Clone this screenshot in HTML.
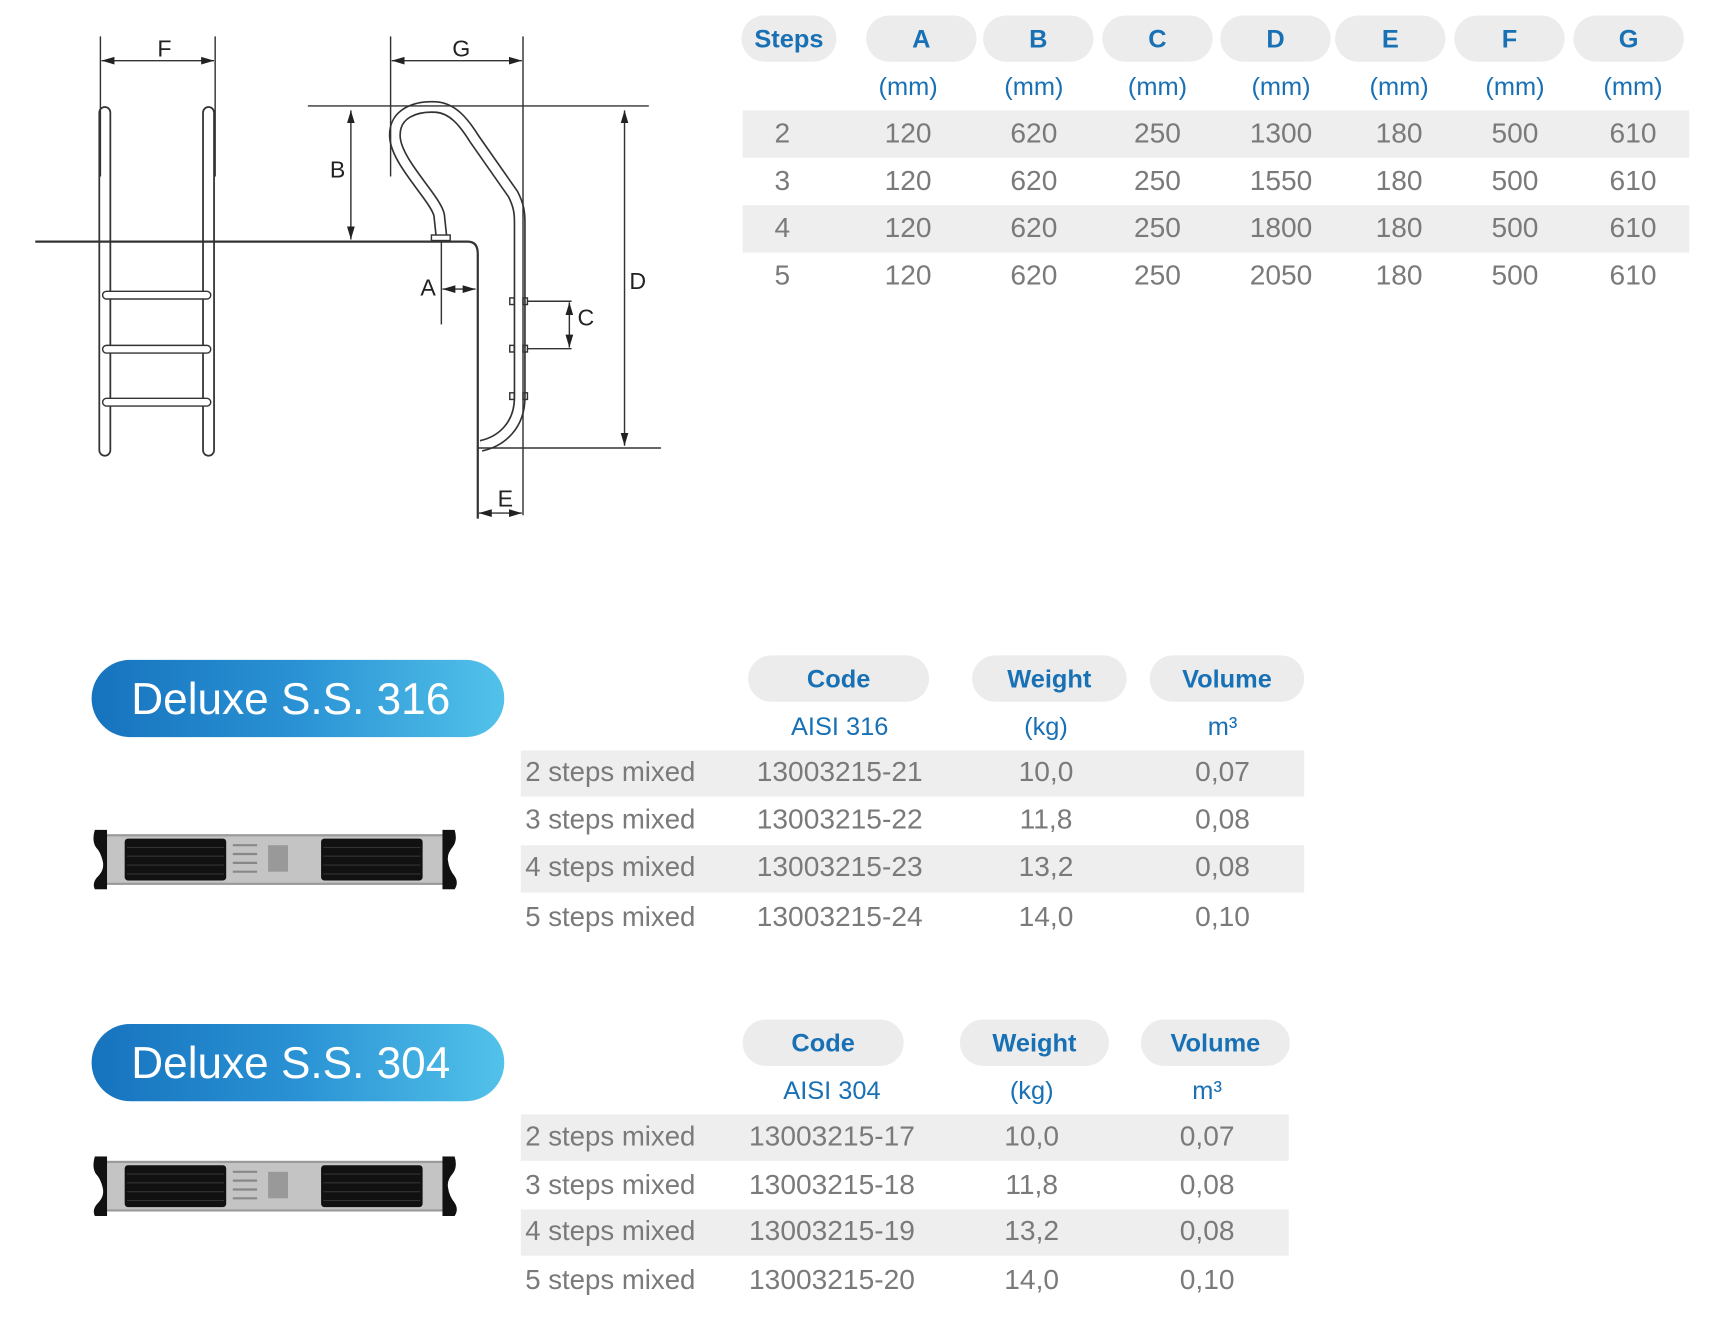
<!DOCTYPE html>
<html><head><meta charset="utf-8"><style>
html,body{margin:0;padding:0;background:#fff;width:1729px;height:1327px;overflow:hidden}
#w{position:absolute;left:0;top:0;width:1567px;height:1203px;transform:scale(1.1034);transform-origin:0 0;font-family:"Liberation Sans",sans-serif}
.a{position:absolute;white-space:nowrap}
.pill{position:absolute;background:#ececec;border-radius:21px;height:42px;color:#1870b5;font-weight:bold;font-size:23px;line-height:42px;text-align:center}
.mm{position:absolute;color:#1870b5;font-size:23px;text-align:center;width:110px;line-height:30px;white-space:nowrap}
.bg{position:absolute;background:#eeeeee}
.t{position:absolute;color:#7a7a7a;font-size:25.5px;line-height:30px;text-align:center;width:120px;white-space:nowrap}
.c{position:absolute;color:#7a7a7a;font-size:25.5px;line-height:30px;text-align:center;width:200px;white-space:nowrap}
.tl{position:absolute;color:#7a7a7a;font-size:25px;line-height:30px;white-space:nowrap}
.big{position:absolute;left:83px;width:374px;height:70px;border-radius:35px;background:linear-gradient(90deg,#1673be,#2a92d4 50%,#52c2ea);color:#fff;font-size:40px;line-height:72px;text-indent:36px}
</style></head><body><div id="w">
<svg class="a" style="left:0;top:0" width="620" height="500" viewBox="0 0 620 500" fill="none" stroke="#333" stroke-width="1.3">
<defs><marker id="ar" viewBox="0 0 10 10" refX="10" refY="5" markerWidth="9" markerHeight="9" orient="auto-start-reverse"><path d="M0,2 L10,5 L0,8z" fill="#222" stroke="none"/></marker></defs>
<rect x="90" y="97" width="10" height="316" rx="5" stroke-width="1.6"/>
<rect x="184" y="97" width="10" height="316" rx="5" stroke-width="1.6"/>
<rect x="93" y="264" width="98" height="7" rx="3.5" fill="#fff"/>
<rect x="93" y="313" width="98" height="7" rx="3.5" fill="#fff"/>
<rect x="93" y="361" width="98" height="7" rx="3.5" fill="#fff"/>
<line x1="91" y1="33" x2="91" y2="160"/><line x1="195" y1="33" x2="195" y2="160"/>
<line x1="92" y1="55" x2="194" y2="55" marker-start="url(#ar)" marker-end="url(#ar)"/>
<path d="M32,219 L424,219 Q433,219 433,230 L433,470" stroke-width="2"/>
<path d="M400,214 L398,195 C395,180 360,148 358,125 C356,102 378,96 395,97 C410,98 420,110 430,126 L465,176 C470,186 471,192 471,202 L471,360 C471,385 455,400 436,404" stroke="#333" stroke-width="11"/>
<path d="M400,214 L398,195 C395,180 360,148 358,125 C356,102 378,96 395,97 C410,98 420,110 430,126 L465,176 C470,186 471,192 471,202 L471,360 C471,385 455,400 436,404" stroke="#fff" stroke-width="8"/>
<rect x="391" y="213" width="17" height="5" fill="#fff"/>
<line x1="279" y1="96" x2="588" y2="96"/><line x1="433" y1="406" x2="599" y2="406"/>
<line x1="354" y1="33" x2="354" y2="160"/><line x1="474" y1="33" x2="474" y2="467"/>
<line x1="355" y1="55" x2="473" y2="55" marker-start="url(#ar)" marker-end="url(#ar)"/>
<line x1="318" y1="100" x2="318" y2="217" marker-start="url(#ar)" marker-end="url(#ar)"/>
<line x1="566" y1="100" x2="566" y2="404" marker-start="url(#ar)" marker-end="url(#ar)"/>
<line x1="400" y1="219" x2="400" y2="294"/>
<line x1="401" y1="262" x2="431" y2="262" marker-start="url(#ar)" marker-end="url(#ar)"/>
<rect x="462" y="270" width="4" height="6"/><rect x="474" y="270" width="4" height="6"/>
<rect x="462" y="313" width="4" height="6"/><rect x="474" y="313" width="4" height="6"/>
<rect x="462" y="356" width="4" height="6"/><rect x="474" y="356" width="4" height="6"/>
<line x1="478" y1="273" x2="518" y2="273"/><line x1="478" y1="316" x2="518" y2="316"/>
<line x1="516" y1="274" x2="516" y2="315" marker-start="url(#ar)" marker-end="url(#ar)"/>
<line x1="434" y1="465" x2="473" y2="465" marker-start="url(#ar)" marker-end="url(#ar)"/>
<g fill="#222" stroke="none" font-family="Liberation Sans,sans-serif" font-size="21" text-anchor="middle">
<text x="149" y="51">F</text><text x="418" y="51">G</text><text x="306" y="161">B</text>
<text x="578" y="262">D</text><text x="388" y="268">A</text><text x="531" y="295">C</text><text x="458" y="459">E</text></g>
</svg>
<div class="bg" style="left:673px;top:100px;width:858px;height:43px"></div>
<div class="bg" style="left:673px;top:186px;width:858px;height:43px"></div>
<div class="pill" style="left:672px;top:14px;width:86px">Steps</div>
<div class="pill" style="left:785px;top:14px;width:100px">A</div>
<div class="pill" style="left:891px;top:14px;width:100px">B</div>
<div class="pill" style="left:999px;top:14px;width:100px">C</div>
<div class="pill" style="left:1106px;top:14px;width:100px">D</div>
<div class="pill" style="left:1210px;top:14px;width:100px">E</div>
<div class="pill" style="left:1318px;top:14px;width:100px">F</div>
<div class="pill" style="left:1426px;top:14px;width:100px">G</div>
<div class="mm" style="left:768px;top:63px">(mm)</div><div class="mm" style="left:882px;top:63px">(mm)</div><div class="mm" style="left:994px;top:63px">(mm)</div><div class="mm" style="left:1106px;top:63px">(mm)</div><div class="mm" style="left:1213px;top:63px">(mm)</div><div class="mm" style="left:1318px;top:63px">(mm)</div><div class="mm" style="left:1425px;top:63px">(mm)</div>
<div style="position:absolute;left:0;top:106px">
<div class="t" style="left:649px">2</div><div class="t" style="left:763px">120</div><div class="t" style="left:877px">620</div><div class="t" style="left:989px">250</div><div class="t" style="left:1101px">1300</div><div class="t" style="left:1208px">180</div><div class="t" style="left:1313px">500</div><div class="t" style="left:1420px">610</div></div>
<div style="position:absolute;left:0;top:149px">
<div class="t" style="left:649px">3</div><div class="t" style="left:763px">120</div><div class="t" style="left:877px">620</div><div class="t" style="left:989px">250</div><div class="t" style="left:1101px">1550</div><div class="t" style="left:1208px">180</div><div class="t" style="left:1313px">500</div><div class="t" style="left:1420px">610</div></div>
<div style="position:absolute;left:0;top:192px">
<div class="t" style="left:649px">4</div><div class="t" style="left:763px">120</div><div class="t" style="left:877px">620</div><div class="t" style="left:989px">250</div><div class="t" style="left:1101px">1800</div><div class="t" style="left:1208px">180</div><div class="t" style="left:1313px">500</div><div class="t" style="left:1420px">610</div></div>
<div style="position:absolute;left:0;top:235px">
<div class="t" style="left:649px">5</div><div class="t" style="left:763px">120</div><div class="t" style="left:877px">620</div><div class="t" style="left:989px">250</div><div class="t" style="left:1101px">2050</div><div class="t" style="left:1208px">180</div><div class="t" style="left:1313px">500</div><div class="t" style="left:1420px">610</div></div>

<svg width="0" height="0" style="position:absolute"><defs><g id="st">
<rect x="12" y="4" width="308" height="46" fill="#9a9a9a"/>
<rect x="14" y="6" width="304" height="42" fill="#c4c4c4"/>
<rect x="30" y="8" width="92" height="38" rx="3" fill="#111"/>
<rect x="208" y="8" width="92" height="38" rx="3" fill="#111"/>
<g stroke="#333" stroke-width="1"><line x1="32" y1="16" x2="120" y2="16"/><line x1="32" y1="24" x2="120" y2="24"/><line x1="32" y1="32" x2="120" y2="32"/><line x1="32" y1="40" x2="120" y2="40"/><line x1="210" y1="16" x2="298" y2="16"/><line x1="210" y1="24" x2="298" y2="24"/><line x1="210" y1="32" x2="298" y2="32"/><line x1="210" y1="40" x2="298" y2="40"/></g>
<g stroke="#888" stroke-width="2"><line x1="128" y1="14" x2="150" y2="14"/><line x1="128" y1="22" x2="150" y2="22"/><line x1="128" y1="30" x2="150" y2="30"/><line x1="128" y1="38" x2="150" y2="38"/></g>
<rect x="160" y="14" width="18" height="24" fill="#999"/>
<path d="M3,0 L14,0 L14,54 L3,54 Q0,48 6,42 Q12,36 10,28 Q8,20 4,16 Q0,10 3,0z" fill="#111"/>
<path d="M318,0 L329,0 Q332,10 327,16 Q322,22 323,28 Q324,36 329,42 Q333,48 329,54 L318,54z" fill="#111"/>
</g></defs></svg>
<svg class="a" style="left:83px;top:752px" width="332" height="54"><use href="#st"/></svg>
<svg class="a" style="left:83px;top:1048px" width="332" height="54"><use href="#st"/></svg>

<div class="big" style="top:598px">Deluxe S.S. 316</div>
<div class="pill" style="left:678px;top:594px;width:164px">Code</div>
<div class="pill" style="left:881px;top:594px;width:140px">Weight</div>
<div class="pill" style="left:1042px;top:594px;width:140px">Volume</div>
<div class="mm" style="left:706px;top:643px">AISI 316</div><div class="mm" style="left:893px;top:643px">(kg)</div><div class="mm" style="left:1053px;top:643px">m³</div>
<div class="bg" style="left:472px;top:680px;width:710px;height:42px"></div>
<div class="bg" style="left:472px;top:766px;width:710px;height:43px"></div>
<div class="tl" style="left:476px;top:685px">2 steps mixed</div><div class="c" style="left:661px;top:685px">13003215-21</div><div class="t" style="left:888px;top:685px">10,0</div><div class="t" style="left:1048px;top:685px">0,07</div>
<div class="tl" style="left:476px;top:728px">3 steps mixed</div><div class="c" style="left:661px;top:728px">13003215-22</div><div class="t" style="left:888px;top:728px">11,8</div><div class="t" style="left:1048px;top:728px">0,08</div>
<div class="tl" style="left:476px;top:771px">4 steps mixed</div><div class="c" style="left:661px;top:771px">13003215-23</div><div class="t" style="left:888px;top:771px">13,2</div><div class="t" style="left:1048px;top:771px">0,08</div>
<div class="tl" style="left:476px;top:816px">5 steps mixed</div><div class="c" style="left:661px;top:816px">13003215-24</div><div class="t" style="left:888px;top:816px">14,0</div><div class="t" style="left:1048px;top:816px">0,10</div>

<div class="big" style="top:928px">Deluxe S.S. 304</div>
<div class="pill" style="left:673px;top:924px;width:146px">Code</div>
<div class="pill" style="left:870px;top:924px;width:135px">Weight</div>
<div class="pill" style="left:1034px;top:924px;width:135px">Volume</div>
<div class="mm" style="left:699px;top:973px">AISI 304</div><div class="mm" style="left:880px;top:973px">(kg)</div><div class="mm" style="left:1039px;top:973px">m³</div>
<div class="bg" style="left:472px;top:1010px;width:696px;height:42px"></div>
<div class="bg" style="left:472px;top:1096px;width:696px;height:42px"></div>
<div class="tl" style="left:476px;top:1015px">2 steps mixed</div><div class="c" style="left:654px;top:1015px">13003215-17</div><div class="t" style="left:875px;top:1015px">10,0</div><div class="t" style="left:1034px;top:1015px">0,07</div>
<div class="tl" style="left:476px;top:1059px">3 steps mixed</div><div class="c" style="left:654px;top:1059px">13003215-18</div><div class="t" style="left:875px;top:1059px">11,8</div><div class="t" style="left:1034px;top:1059px">0,08</div>
<div class="tl" style="left:476px;top:1101px">4 steps mixed</div><div class="c" style="left:654px;top:1101px">13003215-19</div><div class="t" style="left:875px;top:1101px">13,2</div><div class="t" style="left:1034px;top:1101px">0,08</div>
<div class="tl" style="left:476px;top:1145px">5 steps mixed</div><div class="c" style="left:654px;top:1145px">13003215-20</div><div class="t" style="left:875px;top:1145px">14,0</div><div class="t" style="left:1034px;top:1145px">0,10</div>
</div></body></html>
